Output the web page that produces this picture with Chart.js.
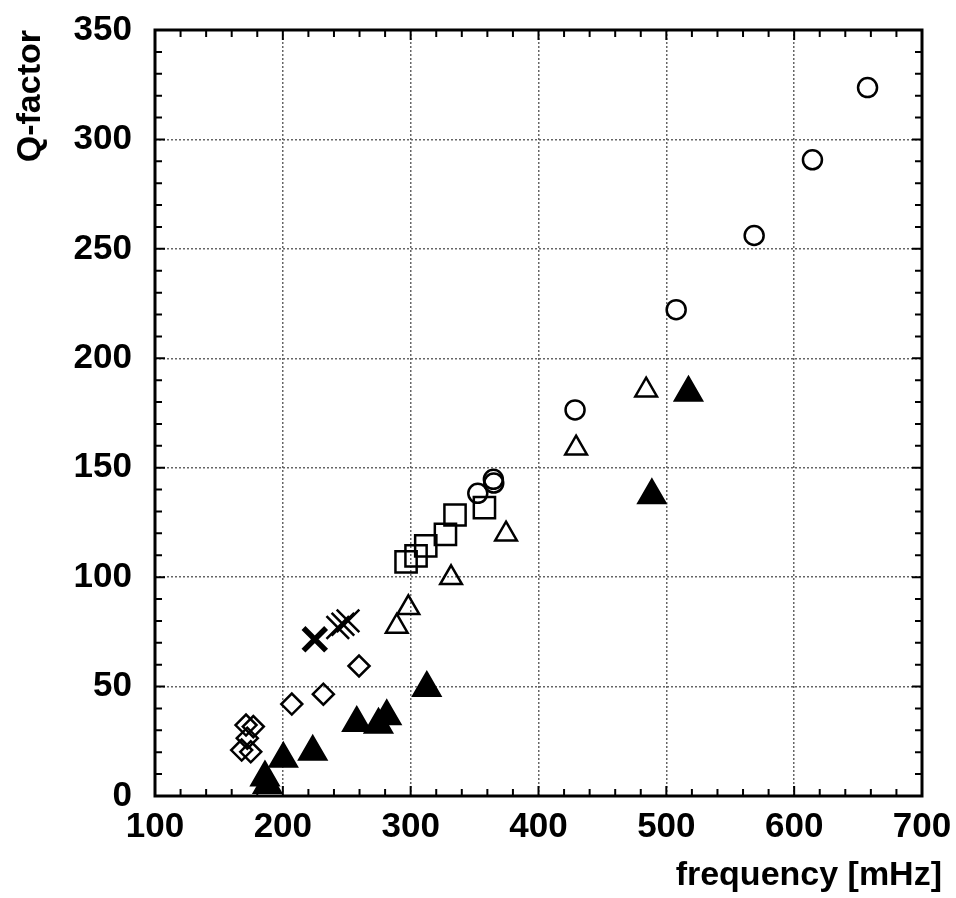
<!DOCTYPE html>
<html>
<head>
<meta charset="utf-8">
<script src="https://cdn.jsdelivr.net/npm/chart.js@4"></script>
<style>
  html, body { margin:0; padding:0; background:#fff; }
  #wrap { width:956px; height:898px; }
</style>
</head>
<body>
<div id="wrap"><canvas id="qf"></canvas></div>
<script>
// values: [frequency mHz, Q]
const openCircles = [[352.5,138.3],[364.7,144.7],[365,143],[428.6,176.4],[507.7,222.2],[568.7,256.1],[614.3,290.7],[657.4,323.7]];
const openSquares = [[296.4,107],[304.2,109.7],[311.8,114.3],[327.2,119.5],[334.7,128.4],[357.7,131.8]];
const openTriangles = [[289.1,77.5],[298.2,86],[331.6,99.7],[374.6,119.6],[429.4,158.9],[484.2,185.4]];
const filledTriangles = [[186,8.5],[188,5],[200.4,17],[223.4,20.2],[257.8,33.4],[274.8,32.6],[281.3,36.4],[312.6,49.4],[488.7,137.4],[517.3,184.3]];
const diamonds = [[171.2,32.4],[176.9,31.7],[172.2,26.4],[167.8,21],[174.9,20.2],[207,42],[231.7,46.5],[259.6,59.4]];
const boldCross = [[225,71.6]];
const thinCrosses = [[243,77],[247,78.5],[251,80]];

const X_MIN = 100, X_MAX = 700, X_STEP = 100, X_MINOR = 20;
const Y_MIN = 0, Y_MAX = 350, Y_STEP = 50, Y_MINOR = 10;

const FONT = "'Liberation Sans', Arial, sans-serif";
const pts = arr => arr.map(([x, y]) => ({ x, y }));

function series(label, data, style, radius, opts = {}) {
  return Object.assign({
    label,
    data: pts(data),
    pointStyle: style,
    pointRadius: radius,
    pointHoverRadius: radius,
    pointBorderColor: "#000",
    pointBackgroundColor: "rgba(0,0,0,0)",
    pointBorderWidth: 2.5,
    showLine: false
  }, opts);
}

// frame, inward ticks on all four sides, x axis title
const framePlugin = {
  id: "frame",
  afterDraw(chart) {
    const { ctx, chartArea: a, scales } = chart;
    ctx.save();
    ctx.strokeStyle = "#000";
    ctx.lineWidth = 2;
    for (let v = X_MIN; v <= X_MAX; v += X_MINOR) {
      const px = scales.x.getPixelForValue(v);
      const len = (v % X_STEP === 0) ? 10 : 7;
      ctx.beginPath();
      ctx.moveTo(px, a.bottom); ctx.lineTo(px, a.bottom - len);
      ctx.moveTo(px, a.top); ctx.lineTo(px, a.top + len);
      ctx.stroke();
    }
    for (let v = Y_MIN; v <= Y_MAX; v += Y_MINOR) {
      const py = scales.y.getPixelForValue(v);
      const len = (v % Y_STEP === 0) ? 10 : 7;
      ctx.beginPath();
      ctx.moveTo(a.left, py); ctx.lineTo(a.left + len, py);
      ctx.moveTo(a.right, py); ctx.lineTo(a.right - len, py);
      ctx.stroke();
    }
    ctx.lineWidth = 3;
    ctx.strokeRect(a.left, a.top, a.right - a.left, a.bottom - a.top);

    ctx.fillStyle = "#000";
    ctx.font = `bold 34px ${FONT}`;
    ctx.textAlign = "right";
    ctx.textBaseline = "middle";
    ctx.fillText("frequency [mHz]", 942, 876);
    ctx.restore();
  }
};

new Chart(document.getElementById("qf"), {
  type: "scatter",
  data: {
    datasets: [
      series("circles", openCircles, "circle", 9.5),
      series("squares", openSquares, "rect", 15),
      series("open triangles", openTriangles, "triangle", 12.5),
      series("filled triangles", filledTriangles, "triangle", 15.5, { pointBackgroundColor: "#000" }),
      series("diamonds", diamonds, "rectRot", 10.5),
      series("cross", boldCross, "crossRot", 16, { pointBorderWidth: 5.5 }),
      series("crosses", thinCrosses, "crossRot", 16, { pointBorderWidth: 2.5 })
    ]
  },
  options: {
    responsive: true,
    maintainAspectRatio: false,
    animation: false,
    layout: { padding: { left: 0, top: 30, right: 34, bottom: 0 } },
    plugins: { legend: { display: false }, tooltip: { enabled: false } },
    scales: {
      x: {
        type: "linear", min: X_MIN, max: X_MAX,
        afterFit: s => { s.height = 102; s.paddingLeft = 0; s.paddingRight = 0; },
        ticks: { stepSize: X_STEP, color: "#000", padding: 10, font: { family: FONT, size: 35, weight: "bold" } },
        grid: { color: "#666", lineWidth: 1.5, drawTicks: false },
        border: { display: false, dash: [2, 2] }
      },
      y: {
        type: "linear", min: Y_MIN, max: Y_MAX,
        afterFit: s => { s.width = 155; s.paddingTop = 0; s.paddingBottom = 0; },
        ticks: { stepSize: Y_STEP, color: "#000", padding: 23, font: { family: FONT, size: 35, weight: "bold" } },
        grid: { color: "#666", lineWidth: 1.5, drawTicks: false },
        border: { display: false, dash: [2, 2] },
        title: {
          display: true, text: "Q-factor", align: "end", color: "#000",
          padding: { top: 10, bottom: 0 },
          font: { family: FONT, size: 34, weight: "bold" }
        }
      }
    }
  },
  plugins: [framePlugin]
});
</script>
</body>
</html>
